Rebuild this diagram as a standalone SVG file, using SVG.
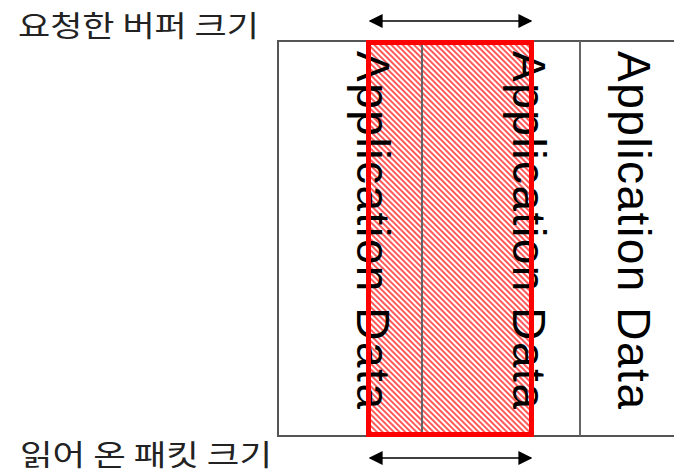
<svg xmlns="http://www.w3.org/2000/svg" width="674" height="476" viewBox="0 0 674 476">
  <defs>
    <pattern id="hatch" patternUnits="userSpaceOnUse" width="4" height="4" patternTransform="rotate(-45)">
      <rect width="4" height="4" fill="#ffffff"/>
      <line x1="1" y1="0" x2="1" y2="4" stroke="#ff0000" stroke-width="1.3"/>
    </pattern>
    <marker id="ah" viewBox="0 0 10 10" refX="9" refY="5" markerWidth="14" markerHeight="14" markerUnits="userSpaceOnUse" orient="auto-start-reverse">
      <path d="M0,0 L10,5 L0,10 Z" fill="#000"/>
    </marker>
  </defs>
  <style>
    .frame { stroke: #555; stroke-width: 2; fill: none; }
    .divider { stroke: #666; stroke-width: 2; fill: none; }
    .appdata { font-family: "Liberation Sans", Arial, sans-serif; font-size: 46px; fill: #000; }
    .label { font-family: "Noto Sans CJK KR", "Liberation Sans", sans-serif; font-size: 29px; fill: #222; }
    .arrow { stroke: #000; stroke-width: 1.6; fill: none; }
  </style>
  <rect width="674" height="476" fill="#ffffff"/>

  <g id="buffer-region">
    <rect x="368.5" y="42.5" width="163" height="392" fill="url(#hatch)"/>
  </g>

  <g id="frame">
    <path class="frame" d="M674,41 L278,41 L278,436 L674,436"/>
    <line class="divider" x1="422" y1="41" x2="422" y2="436"/>
    <line class="divider" x1="580" y1="41" x2="580" y2="436"/>
  </g>

  <g id="record1">
    <text class="appdata" transform="translate(357,51) rotate(90)" textLength="358" lengthAdjust="spacing">Application Data</text>
  </g>
  <g id="record2">
    <text class="appdata" transform="translate(513,51) rotate(90)" textLength="358" lengthAdjust="spacing">Application Data</text>
  </g>
  <g id="record3">
    <text class="appdata" transform="translate(618,51) rotate(90)" textLength="358" lengthAdjust="spacing">Application Data</text>
  </g>

  <g id="buffer-border">
    <rect x="368.5" y="42.5" width="163" height="392" fill="none" stroke="#ff0000" stroke-width="5"/>
  </g>

  <g id="connectors">
    <line class="arrow" x1="370" y1="21" x2="531" y2="21" marker-start="url(#ah)" marker-end="url(#ah)"/>
    <line class="arrow" x1="370" y1="458" x2="531" y2="458" marker-start="url(#ah)" marker-end="url(#ah)"/>
  </g>

  <g id="label-requested">
    <text class="label" x="18" y="37" textLength="241" lengthAdjust="spacingAndGlyphs">요청한 버퍼 크기</text>
  </g>
  <g id="label-read">
    <text class="label" x="20" y="466" textLength="252" lengthAdjust="spacingAndGlyphs">읽어 온 패킷 크기</text>
  </g>
</svg>
